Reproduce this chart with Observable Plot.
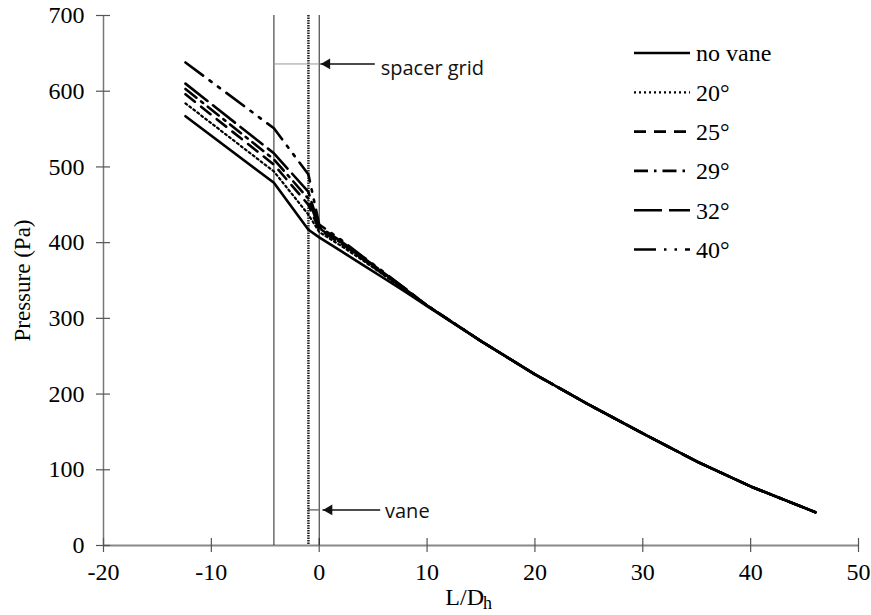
<!DOCTYPE html>
<html><head><meta charset="utf-8">
<script src="https://cdn.jsdelivr.net/npm/d3@7"></script>
<script src="https://cdn.jsdelivr.net/npm/@observablehq/plot@0.6"></script>
<style>body{margin:0;background:#fff}</style>
</head><body><div id="chart"></div>
<script>
// L/Dh positions where pressure was read
const xPos = [-12.4, -4.2, -1, 0, 2, 4, 6, 8, 10, 15, 20, 25, 30, 35, 40, 46];
// Pressure (Pa) per configuration
const noVane = [567, 479, 417, 407, 389, 371, 353, 335, 316, 270, 226, 186, 148, 111, 78, 44];
const vane20 = [584, 494, 437, 414, 396, 377, 357, 337, 317, 270, 226, 186, 148, 111, 78, 44];
const vane25 = [596, 503, 450, 417, 399, 379, 358, 338, 317, 270, 226, 186, 148, 111, 78, 44];
const vane29 = [603, 510, 458, 419, 400, 380, 359, 338, 317, 270, 226, 186, 148, 111, 78, 44];
const vane32 = [610, 518, 467, 421, 402, 381, 360, 339, 317, 270, 226, 186, 148, 111, 78, 44];
const vane40 = [638, 551, 490, 424, 404, 382, 361, 339, 317, 270, 226, 186, 148, 111, 78, 44];
const seriesNames = ["no vane", "20°", "25°", "29°", "32°", "40°"];
const seriesValues = [noVane, vane20, vane25, vane29, vane32, vane40];
const xTicks = [-20, -10, 0, 10, 20, 30, 40, 50];
const yTicks = [0, 100, 200, 300, 400, 500, 600, 700];
const spacerGrid = [-4.2, 0];
const vanePos = [-1];
const spacerNote = {y: 636, label: "spacer grid", arrowFrom: 5.2, arrowTo: 0.15, textX: 5.7, textY: 630};
const vaneNote = {y: 47, label: "vane", arrowFrom: 5.7, arrowTo: 0.35, textX: 6.1, textY: 45};

const styles = [
  {dash: null, w: 2.6},
  {dash: "2,3", w: 2.2},
  {dash: "12,8", w: 2.6},
  {dash: "14,6,2.5,6", w: 2.6},
  {dash: "28,7", w: 2.6},
  {dash: "22,8,2.5,8,2.5,8", w: 2.6}
];

const serif = "Liberation Serif, Times New Roman, serif";
const sans = "Open Sans, Liberation Sans, sans-serif";

const marks = [];
// frame axes lines
marks.push(Plot.ruleY([0], {stroke: "#888", strokeWidth: 2}));
marks.push(Plot.ruleX([xTicks[0]], {stroke: "#777", strokeWidth: 1.5}));
marks.push(Plot.ruleX(xTicks, {x: d => d, y1: 0, y2: 0, insetTop: -7, insetBottom: -7, stroke: "#555", strokeWidth: 1.2}));
marks.push(Plot.ruleY(yTicks, {y: d => d, x1: xTicks[0], x2: xTicks[0], insetLeft: -7, insetRight: -7, stroke: "#555", strokeWidth: 1.2}));
// spacer grid and vane markers
marks.push(Plot.ruleX(spacerGrid, {x: d => d, stroke: "#222", strokeWidth: 1}));
marks.push(Plot.ruleX(vanePos, {x: d => d, stroke: "#222", strokeWidth: 2.5, strokeDasharray: "1.5,1"}));
marks.push(Plot.ruleY([spacerNote], {y: "y", x1: () => spacerGrid[0], x2: () => spacerGrid[1], stroke: "#999", strokeWidth: 1}));
marks.push(Plot.ruleY([vaneNote], {y: "y", x1: () => vanePos[0], x2: () => spacerGrid[1], stroke: "#333", strokeWidth: 1}));
// arrows
for (const n of [spacerNote, vaneNote]) {
  marks.push(Plot.ruleY([n], {y: "y", x1: "arrowFrom", x2: "arrowTo", stroke: "#111", strokeWidth: 1.5}));
  marks.push(Plot.dot([n], {x: "arrowTo", y: "y", symbol: "triangle", r: 4, rotate: -90, fill: "#111", stroke: "none", dx: 6.2}));
  marks.push(Plot.text([n], {x: "textX", y: "textY", text: "label", textAnchor: "start", fontFamily: sans, fontSize: 20, fill: "#111"}));
}
// data lines
seriesNames.forEach((name, i) => {
  const rows = xPos.map((x, j) => ({x, y: seriesValues[i][j], name}));
  marks.push(Plot.line(rows, {x: "x", y: "y", stroke: "#000", strokeWidth: styles[i].w, strokeDasharray: styles[i].dash, strokeLinejoin: "round"}));
});
// tick labels
marks.push(Plot.axisX({ticks: xTicks, tickSize: 0, tickPadding: 17, label: null, tickFormat: d => String(d), fontSize: 24, fontFamily: serif, fill: "#000"}));
marks.push(Plot.axisY({ticks: yTicks, tickSize: 0, tickPadding: 19, label: null, tickFormat: d => String(d), fontSize: 24, fontFamily: serif, fill: "#000"}));
// axis titles
marks.push(Plot.text(["Pressure (Pa)"], {frameAnchor: "left", rotate: -90, dx: -81, text: d => d, textAnchor: "middle", lineAnchor: "middle", fontSize: 23, fontFamily: serif}));
marks.push(Plot.text(["L/D"], {frameAnchor: "bottom", dx: 3, dy: 52, text: d => d, textAnchor: "end", lineAnchor: "middle", fontSize: 24, fontFamily: serif}));
marks.push(Plot.text(["h"], {frameAnchor: "bottom", dx: 2, dy: 58, text: d => d, textAnchor: "start", lineAnchor: "middle", fontSize: 18, fontFamily: serif}));

const chart = Plot.plot({
  width: 871, height: 615,
  marginLeft: 103, marginRight: 13, marginTop: 15, marginBottom: 70,
  x: {domain: [-20, 50], ticks: xTicks},
  y: {domain: [0, 700], ticks: yTicks},
  style: {fontFamily: serif, fontSize: "23px", color: "#000", background: "#fff"},
  marks
});

// legend
const svg = d3.select(chart);
const lg = svg.append("g").attr("class", "legend");
seriesNames.forEach((name, i) => {
  const y = 53 + i * 39.3;
  lg.append("line").attr("x1", 634).attr("x2", 690).attr("y1", y).attr("y2", y)
    .attr("stroke", "#000").attr("stroke-width", styles[i].w)
    .attr("stroke-dasharray", styles[i].dash);
  lg.append("text").attr("x", 696).attr("y", y).attr("dy", "0.35em")
    .style("font-family", serif).style("font-size", "24px").style("text-anchor", "start")
    .attr("fill", "#000").text(name);
});
document.getElementById("chart").append(chart);
</script>
</body></html>
